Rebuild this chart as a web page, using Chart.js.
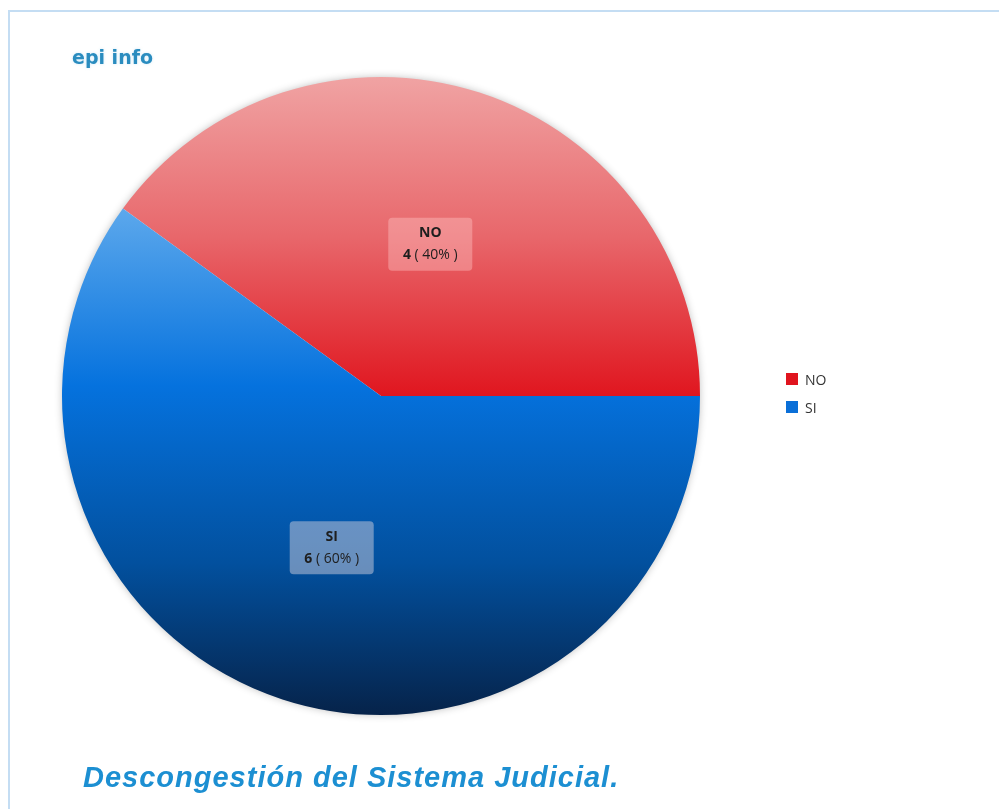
<!DOCTYPE html>
<html>
<head>
<meta charset="utf-8">
<script src="https://cdn.jsdelivr.net/npm/chart.js@4.4.0/dist/chart.umd.min.js"></script>
<style>
    body { margin: 0; width: 999px; height: 809px; overflow: hidden; background: #ffffff; position: relative; }
    #frame { position: absolute; left: 8px; top: 10px; width: 1100px; height: 900px; border: 2px solid #c4ddf3; }
    #chart { position: absolute; left: 0; top: 0; }
    #brand { position: absolute; left: 72px; top: 46px; font-family: 'DejaVu Sans', sans-serif; font-weight: bold; font-size: 19px; color: #2a8cbf; text-shadow: 0 0 3px rgba(120,190,230,0.35); }
    #caption { position: absolute; left: 83px; top: 761px; font-family: 'Liberation Sans', Arial, sans-serif; font-weight: bold; font-style: italic; font-size: 29px; color: #1c8fd2; letter-spacing: 1px; }
    #legend { position: absolute; left: 786px; top: 365px; font-family: 'Open Sans', sans-serif; font-size: 14px; color: #333; }
    .item { height: 28px; display: flex; align-items: center; }
    .box { width: 12px; height: 12px; margin-right: 7px; }
</style>
</head>
<body>
<div id="frame"></div>
<canvas id="chart" width="999" height="809"></canvas>
<div id="brand">epi info</div>
<div id="caption">Descongestión del Sistema Judicial.</div>
<div id="legend"></div>
<script>
    // Data
    const labels = ['NO', 'SI'];
    const counts = [4, 6];
    const legendColors = ['#e0141e', '#0a6fd8'];

    const total = counts.reduce((a, b) => a + b, 0);

    // Vertical gradient per slice, built over each slice's own box
    function sliceFill(context) {
        const chart = context.chart;
        const area = chart.chartArea;
        if (!area) return legendColors[context.dataIndex];
        const x = (area.left + area.right) / 2;
        const y = (area.top + area.bottom) / 2;
        const r = Math.min(area.right - area.left, area.bottom - area.top) / 2;
        const ctx = chart.ctx;
        if (context.dataIndex === 0) {
            const g = ctx.createLinearGradient(0, y - r, 0, y);
            g.addColorStop(0, '#f0a3a3');
            g.addColorStop(0.5, '#e8676b');
            g.addColorStop(1, '#e0161f');
            return g;
        }
        const top = y - r * Math.sin(36 * Math.PI / 180);
        const g = ctx.createLinearGradient(0, top, 0, y + r);
        g.addColorStop(0, '#5ca8ec');
        g.addColorStop(0.35, '#0572de');
        g.addColorStop(0.7, '#02509e');
        g.addColorStop(1, '#06234a');
        return g;
    }

    // Soft shadow under the pie
    const pieShadow = {
        id: 'pieShadow',
        beforeDatasetsDraw(chart) {
            const arc = chart.getDatasetMeta(0).data[0];
            if (!arc) return;
            const ctx = chart.ctx;
            ctx.save();
            ctx.shadowColor = 'rgba(0,0,0,0.3)';
            ctx.shadowBlur = 8;
            ctx.fillStyle = '#ffffff';
            ctx.beginPath();
            ctx.arc(arc.x, arc.y, arc.outerRadius - 1, 0, Math.PI * 2);
            ctx.fill();
            ctx.restore();
        }
    };

    // Boxed labels at the middle of each slice
    const sliceLabels = {
        id: 'sliceLabels',
        afterDatasetsDraw(chart) {
            const ctx = chart.ctx;
            const boxFill = ['rgba(255,200,200,0.4)', 'rgba(190,195,215,0.55)'];
            chart.getDatasetMeta(0).data.forEach((arc, i) => {
                const p = arc.getCenterPoint();
                const w = 84, h = 53;
                ctx.save();
                ctx.fillStyle = boxFill[i];
                ctx.beginPath();
                ctx.roundRect(p.x - w / 2, p.y - h / 2, w, h, 4);
                ctx.fill();
                ctx.fillStyle = '#1e1e1e';
                ctx.textBaseline = 'middle';
                ctx.textAlign = 'center';
                ctx.font = 'bold 14px "Open Sans", sans-serif';
                ctx.fillText(labels[i], p.x, p.y - 11);
                const pct = Math.round(counts[i] / total * 100);
                const num = String(counts[i]);
                const rest = ' ( ' + pct + '% )';
                const wNum = ctx.measureText(num).width;
                ctx.font = '14px "Open Sans", sans-serif';
                const wRest = ctx.measureText(rest).width;
                const x0 = p.x - (wNum + wRest) / 2;
                ctx.textAlign = 'left';
                ctx.font = 'bold 14px "Open Sans", sans-serif';
                ctx.fillText(num, x0, p.y + 11);
                ctx.font = '14px "Open Sans", sans-serif';
                ctx.fillText(rest, x0 + wNum, p.y + 11);
                ctx.restore();
            });
        }
    };

    new Chart(document.getElementById('chart'), {
        type: 'pie',
        data: {
            labels: labels,
            datasets: [{
                data: counts,
                backgroundColor: sliceFill,
                borderWidth: 0
            }]
        },
        options: {
            responsive: false,
            animation: false,
            rotation: 306,
            layout: { padding: { left: 62, right: 299, top: 76, bottom: 93 } },
            plugins: {
                legend: { display: false },
                tooltip: { enabled: false }
            }
        },
        plugins: [pieShadow, sliceLabels]
    });

    // Legend built from the same arrays
    const legend = document.getElementById('legend');
    labels.forEach((l, i) => {
        const row = document.createElement('div');
        row.className = 'item';
        row.innerHTML = '<div class="box" style="background:' + legendColors[i] + '"></div>' + l;
        legend.appendChild(row);
    });
</script>
</body>
</html>
